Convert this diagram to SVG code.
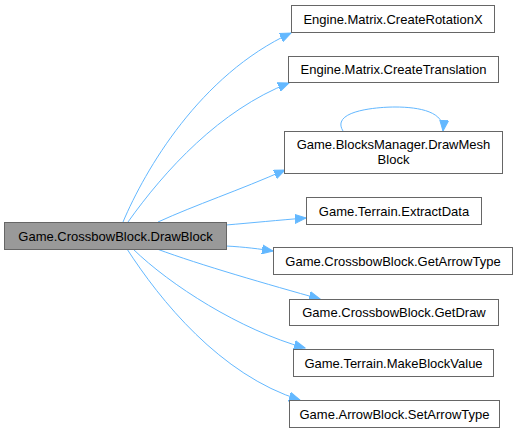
<svg xmlns="http://www.w3.org/2000/svg" width="518" height="432" viewBox="0 0 518 432">
<style>
.n rect{fill:#ffffff;stroke:#666666;stroke-width:1}
.n.m rect{fill:#999999}
.n text{font-family:"Liberation Sans",Arial,sans-serif;font-size:13px;fill:#000000;text-anchor:middle}
.e path{fill:none;stroke:#63b8ff;stroke-width:1;marker-end:url(#ah)}
</style>
<defs>
<marker id="ah" markerUnits="userSpaceOnUse" markerWidth="12" markerHeight="10" viewBox="0 0 12 10" refX="11" refY="5" orient="auto">
<path d="M0,0.5 L11,5 L0,9.5 Z" fill="#63b8ff" stroke="#63b8ff"/>
</marker>
</defs>
<rect width="518" height="432" fill="#ffffff"/>
<g class="e" id="edges">
<path d="M123,222 C145,170 200,75 291,33"/>
<path d="M128,222 C165,170 220,110 289,83"/>
<path d="M158,222 C195,205 240,190 285,170"/>
<path d="M226,225 C250,223 280,220 306,218"/>
<path d="M226,246 C245,247 260,249 273,251"/>
<path d="M157,249 C200,265 270,285 320,299"/>
<path d="M133,249 C170,285 240,330 305,348"/>
<path d="M127,249 C160,300 220,375 300,400"/>
<path d="M343,131 C330,110 380,107 395,107 C420,107 445,112 443,131"/>
</g>
<g class="n m" id="n0"><rect x="4.5" y="222.5" width="222" height="27"/><text x="115.5" y="240.5">Game.CrossbowBlock.DrawBlock</text></g>
<g class="n" id="n1"><rect x="291.5" y="5.5" width="203" height="27"/><text x="393" y="23.5">Engine.Matrix.CreateRotationX</text></g>
<g class="n" id="n2"><rect x="288.5" y="56.5" width="210" height="26"/><text x="393.5" y="74">Engine.Matrix.CreateTranslation</text></g>
<g class="n" id="n3"><rect x="284.5" y="131.5" width="218" height="42"/><text x="393.5" y="148.5">Game.BlocksManager.DrawMesh</text><text x="393.5" y="163.5">Block</text></g>
<g class="n" id="n4"><rect x="306.5" y="197.5" width="175" height="27"/><text x="394" y="215.5">Game.Terrain.ExtractData</text></g>
<g class="n" id="n5"><rect x="273.5" y="247.5" width="239" height="27"/><text x="393" y="265.5">Game.CrossbowBlock.GetArrowType</text></g>
<g class="n" id="n6"><rect x="289.5" y="299.5" width="209" height="26"/><text x="394" y="317">Game.CrossbowBlock.GetDraw</text></g>
<g class="n" id="n7"><rect x="293.5" y="349.5" width="200" height="27"/><text x="393.5" y="367.5">Game.Terrain.MakeBlockValue</text></g>
<g class="n" id="n8"><rect x="289.5" y="400.5" width="210" height="27"/><text x="394.5" y="418.5">Game.ArrowBlock.SetArrowType</text></g>
</svg>
